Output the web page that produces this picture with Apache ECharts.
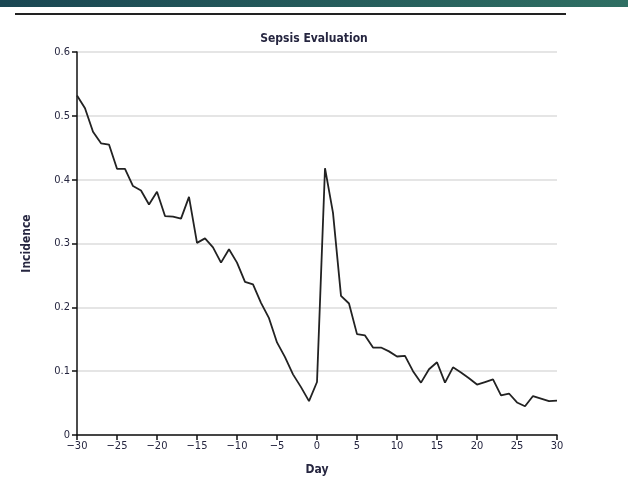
<!DOCTYPE html>
<html>
<head>
<meta charset="utf-8">
<script src="https://cdn.jsdelivr.net/npm/echarts@6/dist/echarts.min.js"></script>
<style>
html,body{margin:0;padding:0;background:#fff;}
#chart{width:628px;height:481px;}
</style>
</head>
<body>
<div id="chart"></div>
<script>
const days = [-30,-29,-28,-27,-26,-25,-24,-23,-22,-21,-20,-19,-18,-17,-16,-15,-14,-13,-12,-11,-10,-9,-8,-7,-6,-5,-4,-3,-2,-1,0,1,2,3,4,5,6,7,8,9,10,11,12,13,14,15,16,17,18,19,20,21,22,23,24,25,26,27,28,29,30];
const incidence = [0.532,0.512,0.475,0.457,0.455,0.417,0.417,0.390,0.383,0.361,0.381,0.343,0.342,0.339,0.373,0.301,0.308,0.294,0.270,0.291,0.270,0.240,0.236,0.207,0.183,0.145,0.122,0.095,0.075,0.053,0.083,0.418,0.348,0.218,0.206,0.158,0.156,0.137,0.137,0.131,0.123,0.124,0.100,0.082,0.103,0.114,0.082,0.106,0.098,0.089,0.079,0.083,0.087,0.062,0.065,0.051,0.045,0.061,0.057,0.053,0.054];
const titleText = "Sepsis Evaluation";
const xName = "Day";
const yName = "Incidence";

const FONT = '"Liberation Sans Narrow", "DejaVu Sans Condensed", "Roboto", sans-serif';
const chart = echarts.init(document.getElementById('chart'), null, {renderer:'canvas'});
chart.setOption({
  animation: false,
  backgroundColor: '#fff',
  title: {
    text: titleText, left: 'center', top: 28,
    textStyle: {fontFamily: FONT, fontSize: 12, fontWeight: 'bold', color: '#262640'}
  },
  graphic: [
    {type:'rect', left:0, top:0, shape:{width:628, height:7},
     style:{fill:{type:'linear', x:0, y:0, x2:1, y2:0, colorStops:[{offset:0,color:'#1a4753'},{offset:1,color:'#2f6f63'}]}}},
    {type:'rect', left:15, top:13, shape:{width:551, height:2}, style:{fill:'#222'}}
  ],
  grid: {left: 77, right: 71, top: 52, bottom: 45},
  xAxis: {
    type: 'value', min: -30, max: 30, interval: 5,
    name: xName, nameLocation: 'middle', nameGap: 29,
    nameTextStyle: {fontFamily: FONT, fontSize: 12, fontWeight: 'bold', color: '#262640'},
    axisLine: {show: true, onZero: false, lineStyle: {color: '#111', width: 1.5}},
    axisTick: {show: true, length: 5, lineStyle: {color: '#111', width: 1.5}},
    axisLabel: {fontFamily: FONT, fontSize: 11, color: '#262640', margin: 6,
      formatter: v => String(v).replace('-', '\u2212')},
    splitLine: {show: false}
  },
  yAxis: {
    type: 'value', min: 0, max: 0.6, interval: 0.1,
    name: yName, nameLocation: 'middle', nameGap: 44, nameRotate: 90,
    nameTextStyle: {fontFamily: FONT, fontSize: 12, fontWeight: 'bold', color: '#262640'},
    axisLine: {show: true, onZero: false, lineStyle: {color: '#111', width: 1.5}},
    axisTick: {show: true, length: 5, lineStyle: {color: '#111', width: 1.5}},
    axisLabel: {fontFamily: FONT, fontSize: 11, color: '#262640', margin: 7,
      formatter: v => v === 0 ? '0' : v.toFixed(1)},
    splitLine: {show: true, lineStyle: {color: '#dcdcdc', width: 1.5}}
  },
  series: [{
    type: 'line',
    data: days.map((d, i) => [d, incidence[i]]),
    showSymbol: false,
    lineStyle: {color: '#222', width: 1.8},
    z: 3
  }]
});
</script>
</body>
</html>
